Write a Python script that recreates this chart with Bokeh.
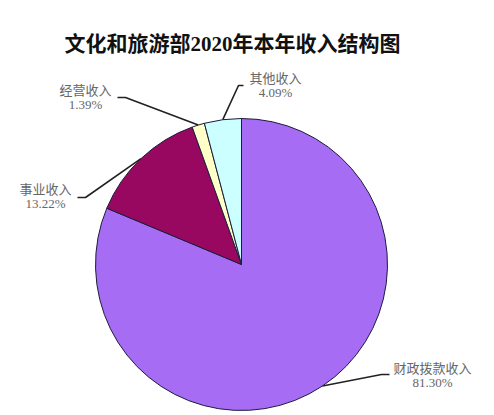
import math
from bokeh.plotting import figure
from bokeh.models import Range1d, ColumnDataSource
from bokeh.core.properties import value
from bokeh.embed import file_html
from bokeh.resources import INLINE

# ---- data ----
title = "文化和旅游部2020年本年收入结构图"
categories = ["财政拨款收入", "事业收入", "经营收入", "其他收入"]
percents = [81.30, 13.22, 1.39, 4.09]
pct_labels = ["81.30%", "13.22%", "1.39%", "4.09%"]
colors = ["#A66CF4", "#990860", "#FFFFC8", "#CCFFFF"]

# ---- layout (page pixel coordinates) ----
W, H = 490, 412
cx, cy, R = 241, 264, 146
label_pos = [(432, 368), (45, 189), (85, 90), (275, 78)]
elbow_pos = [(381, 374), (85, 197), (125, 97), (238, 85)]
end_pos = [(389, 374), (77, 197), (117, 97), (243, 85)]
line_gap = 14

FONT = value("Liberation Serif, Noto Sans CJK SC")

p = figure(width=W, height=H, output_backend="svg", toolbar_location=None,
           x_range=Range1d(0, W), y_range=Range1d(-H, 0),
           min_border=0, outline_line_color=None, background_fill_color="white",
           border_fill_color="white")
p.axis.visible = False
p.grid.visible = False

total = sum(percents)
starts, ends, mids = [], [], []
cum = 0.0
for v in percents:
    a0 = math.pi / 2 - 2 * math.pi * cum / total
    cum += v
    a1 = math.pi / 2 - 2 * math.pi * cum / total
    starts.append(a0)
    ends.append(a1)
    mids.append((a0 + a1) / 2)

src = ColumnDataSource(dict(start=starts, end=ends, color=colors))
p.wedge(x=cx, y=-cy, radius=R, start_angle="start", end_angle="end",
        direction="clock", fill_color="color", line_color="#1c1c3c",
        line_width=1, source=src)

# leader lines
for i, m in enumerate(mids):
    ex = cx + R * math.cos(m)
    ey = -cy + R * math.sin(m)
    xs = [ex, elbow_pos[i][0], end_pos[i][0]]
    ys = [ey, -elbow_pos[i][1], -end_pos[i][1]]
    p.line(xs, ys, line_color="#222222", line_width=1.6)

# labels
lx = [lp[0] for lp in label_pos]
ly1 = [-lp[1] for lp in label_pos]
ly2 = [-(lp[1] + line_gap) for lp in label_pos]
p.text(x=lx, y=ly1, text=categories, text_font=FONT, text_font_size="13px",
       text_color="#666666", text_align="center", text_baseline="middle")
p.text(x=lx, y=ly2, text=pct_labels, text_font=FONT, text_font_size="13px",
       text_color="#666666", text_align="center", text_baseline="middle")

# title
p.text(x=[232], y=[-43], text=[title], text_font=FONT, text_font_size="21px",
       text_font_style="bold", text_color="#111111", text_align="center",
       text_baseline="middle")

open("out.html", "w").write(file_html(p, INLINE))
